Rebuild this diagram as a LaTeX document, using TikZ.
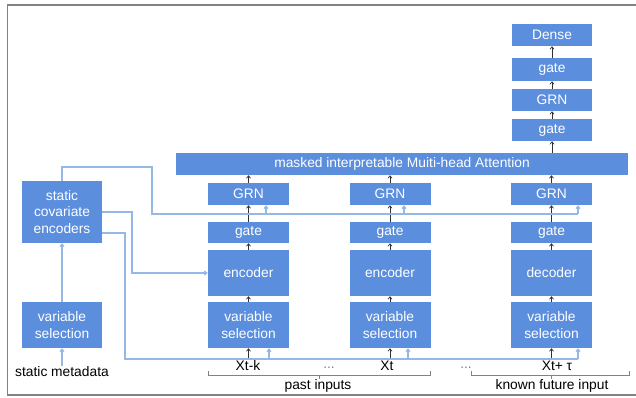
\documentclass[tikz,border=0pt]{standalone}
\usepackage{fontspec}
\setmainfont{Liberation Sans}
\usetikzlibrary{arrows.meta,calc}
\definecolor{boxblue}{RGB}{91,142,221}
\definecolor{lineblue}{RGB}{150,184,230}
\definecolor{framegray}{RGB}{130,130,130}
\definecolor{arrgray}{RGB}{50,50,50}
\begin{document}
\begin{tikzpicture}[x=1pt,y=-1pt,
  box/.style={fill=boxblue,text=white,minimum width=80pt,align=center,inner sep=0pt,
    font=\fontsize{13.8}{16.7}\selectfont},
  lbl/.style={text=black,inner sep=1pt,font=\fontsize{13.8}{16}\selectfont},
  arr/.style={draw=arrgray,line width=0.7pt,-{Straight Barb[length=2.5pt,width=4pt]}},
  bl/.style={draw=lineblue,line width=1.1pt},
  blarr/.style={draw=lineblue,line width=1.1pt,-{Straight Barb[length=2.5pt,width=4pt]}},
  brace/.style={draw=framegray,line width=0.8pt}
]
\useasboundingbox (0,0) rectangle (636,397);
\draw[draw=framegray,line width=1.3pt] (640,5) -- (7.5,5) -- (7.5,395) -- (640,395);

% top stack
\node[box,minimum height=22pt] (dense) at (552,35) {Dense};
\node[box,minimum height=23pt] (gtop) at (552,69.5) {gate};
\node[box,minimum height=22pt] (grntop) at (552,100) {GRN};
\node[box,minimum height=22pt] (gmid) at (552,130) {gate};
\node[box,minimum width=452pt,minimum height=22pt] (att) at (402,164) {masked interpretable Muiti-head Attention};

% columns
\foreach \n/\x/\t in {1/248.5/encoder,2/390/encoder,3/551.5/decoder}{
  \node[box,minimum width=81pt,minimum height=22pt] (grn\n) at (\x,194) {GRN};
  \node[box,minimum width=81pt,minimum height=21pt] (gate\n) at (\x,232.5) {gate};
  \node[box,minimum width=81pt,minimum height=46pt] (enc\n) at (\x,273) {\t};
  \node[box,minimum width=81pt,minimum height=46pt] (vs\n) at (\x,325) {variable\\selection};
}

% static side
\node[box,minimum height=62pt] (sce) at (62,212) {static\\covariate\\encoders};
\node[box,minimum height=46pt] (svs) at (62,325) {variable\\selection};
\node[lbl] (smeta) at (62,372) {static metadata};

% inputs
\node[lbl] (x1) at (248,366) {Xt-k};
\node[lbl] (x2) at (387,366) {Xt};
\node[lbl] (x3) at (557,366) {Xt+ τ};
\node[lbl,text=framegray] (d1) at (329,368) {...};
\node[lbl,text=framegray] (d2) at (466,368) {...};
\node[lbl] (past) at (318,386) {past inputs};
\node[lbl] (future) at (552,386) {known future input};

% braces
\draw[brace] (208,371) -- (208,375) -- (430,375) -- (430,371);
\draw[brace] (319,375) -- (319,378.5);
\draw[brace] (471,371) -- (471,375) -- (629,375) -- (629,371);
\draw[brace] (551,375) -- (551,378.5);

% black arrows
\draw[arr] (gtop) -- (dense);
\draw[arr] (grntop) -- (gtop);
\draw[arr] (gmid) -- (grntop);
\draw[arr] (att.north -| gmid) -- (gmid.south);
\foreach \n in {1,2,3}{
  \draw[arr] (grn\n.north) -- (grn\n.north |- att.south);
  \draw[arr] (gate\n) -- (grn\n);
  \draw[arr] (enc\n) -- (gate\n);
  \draw[arr] (vs\n) -- (enc\n);
}
\draw[arr] (vs1.south |- x1.north) -- (vs1.south);
\draw[arr] (vs2.south |- x2.north) -- (vs2.south);
\draw[arr] (vs3.south |- x3.north) -- (vs3.south);

% static blue connectors
\draw[blarr] (smeta) -- (svs);
\draw[blarr] (svs) -- (sce);
\coordinate (busA) at (578,214);
\coordinate (busB) at (578,359);
\draw[bl] (sce.north) |- (152,167) |- (busA);
\draw[blarr] (sce.east) -| (132,273) -- (enc1.west);
\draw[bl] (sce.east |- 0,233) -| (125,359) -- (busB);
\foreach \n/\bx in {1/266,2/404,3/578}{
  \draw[blarr] (\bx,214) -- (\bx,0 |- grn\n.south);
}
\foreach \n/\bx in {1/269,2/408,3/578}{
  \draw[blarr] (\bx,359) -- (\bx,0 |- vs\n.south);
}
\end{tikzpicture}
\end{document}
